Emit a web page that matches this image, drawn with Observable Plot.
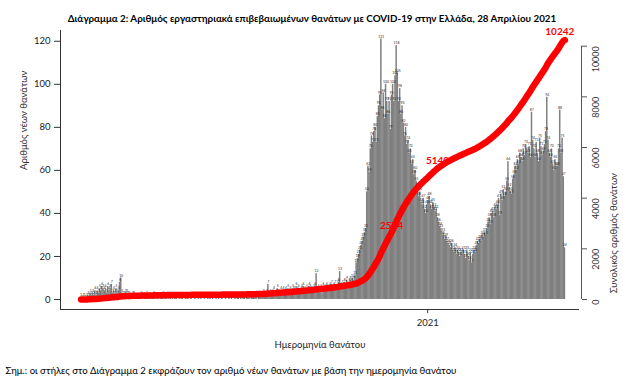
<!DOCTYPE html>
<html>
<head>
<meta charset="utf-8">
<script src="https://cdn.jsdelivr.net/npm/d3@7"></script>
<script src="https://cdn.jsdelivr.net/npm/@observablehq/plot@0.6"></script>
<style>
  html, body { margin: 0; padding: 0; background: #ffffff; }
</style>
</head>
<body>
<div id="chart"></div>
<script>
// ---- Data (daily deaths by date of death) ----
const firstDay = "2020-03-12";
const mar2020 = [1,0,1,1,0,1,2,1,3,2,3,2,4,2,4,3,5,4,6,5];
const apr2020 = [4,5,3,6,4,5,7,3,4,3,5,3,4,8,10,3,2,2,3,3,2,2,1,1,2,2,1,1,1,1];
const may2020 = [1,2,1,0,1,1,2,0,1,1,0,1,2,1,0,1,1,0,1,1,2,0,1,1,0,1,1,0,1,0,1];
const jun2020 = [1,0,0,1,0,1,0,0,1,0,1,0,0,1,0,0,1,0,0,1,0,1,0,0,1,0,0,1,0,1];
const jul2020 = [0,1,0,0,1,0,1,0,0,1,0,0,1,0,0,1,0,1,0,0,1,0,1,1,0,1,0,1,1,0,1];
const aug2020 = [1,1,0,2,1,1,2,1,0,2,1,2,1,3,2,2,3,7,2,3,2,3,4,2,3,5,3,2,4,3,4];
const sep2020 = [3,4,2,5,3,4,3,5,4,3,6,4,5,3,4,5,6,4,3,5,4,6,5,4,3,5,6,12,4,5];
const oct2020 = [4,5,3,6,4,5,6,4,5,6,7,5,6,7,5,7,8,13,6,7,6,8,7,9,6,8,9,8,10,9,11];
const nov2020 = [17,19,21,23,25,27,29,31,33,50,62,59,70,76,73,78,80,73,85,90,95,121,88,96,84,100,92,86,92,79];
const dec2020 = [95,100,92,104,118,105,92,98,86,90,82,76,80,72,74,68,70,63,65,58,60,55,52,48,50,45,44,47,42,40,44];
const jan2021 = [46,48,44,42,45,43,41,42,38,36,34,33,30,31,28,29,27,26,25,24,26,23,22,24,21,23,22,20,22,21,23];
const feb2021 = [21,19,23,20,18,22,17,21,23,22,25,27,26,28,27,30,29,31,30,33,36,38,35,40,41,38,43,42];
const mar2021 = [44,47,39,49,46,51,48,50,55,64,52,50,49,56,58,62,60,65,63,68,66,64,70,67,72,69,68,71,66,87,74];
const apr2021 = [70,66,73,68,64,75,71,67,69,72,78,94,74,68,66,70,63,60,65,62,62,70,88,68,75,57,24];

// cumulative labels on the red line
const cumLabelDates = ["2020-11-30", "2021-01-08", "2021-04-27"];
const cumLabelValues = ["2574", "5140", "10242"];

// axes
const leftTicks = [0, 20, 40, 60, 80, 100, 120];
const rightTicks = [0, 2000, 4000, 6000, 8000, 10000];
const xTicks = ["2021-01-01"];
const xTickLabels = ["2021"];
const xDomain = ["2020-02-24", "2021-05-10"];
const yDomain = [-4.65, 125];
const rightTopInLeftUnits = 117.7; // where 10000 (right axis) sits on the left scale

// texts
const titleText = "Διάγραμμα 2: Αριθμός εργαστηριακά επιβεβαιωμένων θανάτων με COVID-19 στην Ελλάδα, 28 Απριλίου 2021";
const yLabelLeft = "Αριθμός νέων θανάτων";
const yLabelRight = "Συνολικός αριθμός θανάτων";
const xLabel = "Ημερομηνία θανάτου";
const noteText = "Σημ.: οι στήλες στο Διάγραμμα 2 εκφράζουν τον αριθμό νέων θανάτων με βάση την ημερομηνία θανάτου";

// ---- Build table ----
const deaths = [mar2020, apr2020, may2020, jun2020, jul2020, aug2020, sep2020, oct2020,
                nov2020, dec2020, jan2021, feb2021, mar2021, apr2021].flat();
const start = new Date(firstDay + "T00:00:00Z");
const cum = d3.cumsum(deaths);
const k = rightTopInLeftUnits / rightTicks[rightTicks.length - 1];
const data = deaths.map((v, i) => ({
  date: d3.utcDay.offset(start, i),
  mid: d3.utcHour.offset(d3.utcDay.offset(start, i), 12),
  value: v,
  cum: cum[i]
}));
const byDay = new Map(data.map(d => [+d.date, d]));
const labels = cumLabelDates.map((s, i) => {
  const d = byDay.get(+new Date(s + "T00:00:00Z"));
  return {x: d.mid, y: d.cum * k, text: cumLabelValues[i]};
});
const xd = xDomain.map(s => new Date(s + "T00:00:00Z"));

const font = "Lato, 'Open Sans', sans-serif";

const chart = Plot.plot({
  width: 623,
  height: 389,
  marginLeft: 60,
  marginRight: 44,
  marginTop: 30,
  marginBottom: 80,
  style: {fontFamily: font, fontSize: "10px", background: "#ffffff", color: "#222"},
  x: {type: "utc", domain: xd},
  y: {domain: yDomain},
  marks: [
    // bars
    Plot.rectY(data, {x: "date", y: "value", interval: d3.utcDay, fill: "#7f7f7f",
      insetLeft: 0, insetRight: -0.3}),
    // tiny value labels above bars
    Plot.text(data, {x: "mid", y: "value", text: d => String(d.value), dy: -2.5, fontSize: 3.4, fill: "#2a2a2a"}),
    // cumulative labels (under the line)
    Plot.text(labels.slice(0, 2), {x: "x", y: "y", text: "text", dx: 1, dy: -9, fill: "#ff0000",
      fontWeight: "bold", fontSize: 10}),
    Plot.text(labels.slice(2), {x: "x", y: "y", text: "text", dx: -5, dy: -8, fill: "#ff0000",
      fontWeight: "bold", fontSize: 10}),
    // cumulative line
    Plot.line(data, {x: "mid", y: d => d.cum * k, stroke: "#ff0000", strokeWidth: 6.5,
      strokeLinecap: "round", strokeLinejoin: "round"}),
    // frame lines
    Plot.ruleX([xd[0]], {stroke: "#333", strokeWidth: 1}),
    Plot.ruleY([yDomain[0]], {stroke: "#333", strokeWidth: 1}),
    // left axis
    Plot.axisY({ticks: leftTicks, tickSize: 6, tickPadding: 4, fontSize: 9.5, label: null, stroke: "#333", fill: "#222"}),
    // x axis
    Plot.axisX({ticks: xTicks.map(s => new Date(s + "T00:00:00Z")), tickFormat: (d, i) => xTickLabels[i],
      tickSize: 4, tickPadding: 6, fontSize: 9.5, label: null, stroke: "#333", fill: "#222"}),
    // right axis
    Plot.ruleX([xd[1]], {y1: rightTicks[0] * k, y2: rightTicks[rightTicks.length - 1] * k, dx: 2, stroke: "#555"}),
    Plot.axisY({anchor: "right", ticks: rightTicks.map(v => v * k), tickFormat: () => "", tickSize: 5, dx: 2,
      label: null, stroke: "#555"}),
    Plot.text(rightTicks, {frameAnchor: "right", y: v => v * k, text: v => String(v), rotate: -90, dx: 17,
      fontSize: 9, fill: "#333"}),
    // axis titles
    Plot.text([yLabelLeft], {frameAnchor: "left", rotate: -90, dx: -37, fontSize: 9.5, fill: "#333333"}),
    Plot.text([yLabelRight], {frameAnchor: "right", rotate: -90, dx: 34, dy: 3, fontSize: 9.5, fill: "#333333"}),
    Plot.text([xLabel], {frameAnchor: "bottom", dy: 38, fontSize: 9.5, fill: "#222222"}),
    // title and note
    Plot.text([titleText], {frameAnchor: "top", dx: -8, dy: -15, fontSize: 9.8, fontWeight: "bold", fill: "#000000"}),
    Plot.text([noteText], {frameAnchor: "bottom-left", textAnchor: "start", dx: -55, dy: 64, fontSize: 9.6, fill: "#000000"})
  ]
});
document.getElementById("chart").appendChild(chart);
</script>
</body>
</html>
